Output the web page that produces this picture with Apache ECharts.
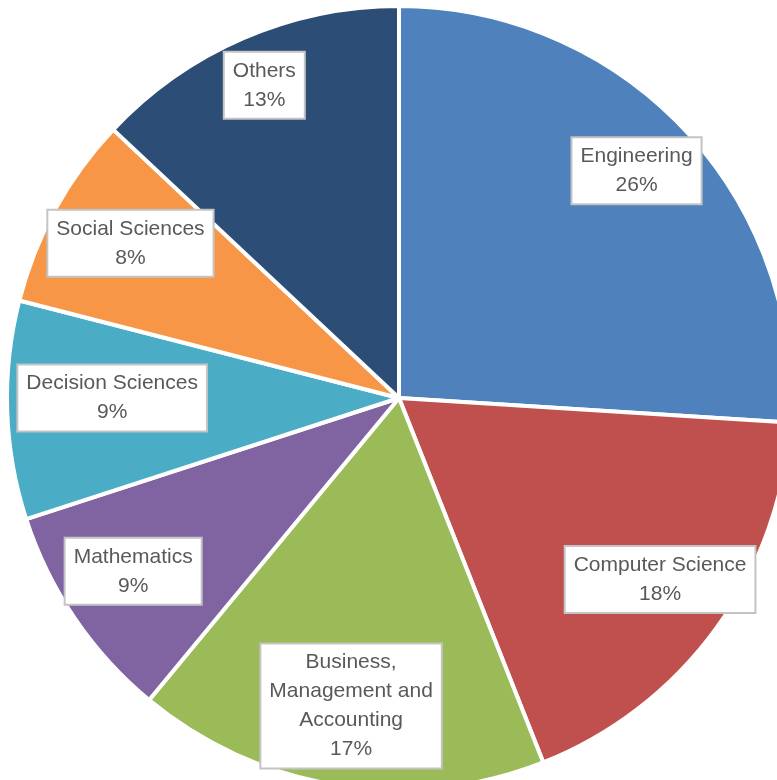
<!DOCTYPE html>
<html>
<head>
<meta charset="utf-8">
<title>Publications by subject area</title>
<script src="https://cdn.jsdelivr.net/npm/echarts@6/dist/echarts.min.js"></script>
<style>
  html, body { margin: 0; padding: 0; background: #ffffff; }
  #chart { width: 777px; height: 780px; }
</style>
</head>
<body>
<div id="chart"></div>
<script>
// Subject areas, clockwise from 12 o'clock
const categories = [
  'Engineering',
  'Computer Science',
  'Business, Management and Accounting',
  'Mathematics',
  'Decision Sciences',
  'Social Sciences',
  'Others'
];
// Share of documents per subject area (%)
const shares = [26, 18, 17, 9, 9, 8, 13];
const colors = ['#4F81BD', '#C0504D', '#9BBB59', '#8064A2', '#4BACC6', '#F79646', '#2C4D75'];

// Small hand-tuned shifts for the label boxes (px)
const labelNudge = {
  'Engineering': [5, -9],
  'Computer Science': [3, -6],
  'Business, Management and Accounting': [2, -7],
  'Mathematics': [-2, -6],
  'Decision Sciences': [32, -10],
  'Social Sciences': [11, -1],
  'Others': [-8, -20]
};

const pieData = categories.map((name, i) => ({
  name: name,
  value: shares[i],
  itemStyle: { color: colors[i] }
}));

const wrapName = (name) => name.replace(', ', ',\n').replace(' and ', ' and\n');

const chart = echarts.init(document.getElementById('chart'), null, { renderer: 'canvas' });

chart.setOption({
  animation: false,
  backgroundColor: '#ffffff',
  series: [
    {
      // the slices
      type: 'pie',
      center: [399, 398],
      radius: [0, 392],
      startAngle: 90,
      clockwise: true,
      silent: true,
      label: { show: false },
      labelLine: { show: false },
      itemStyle: { borderColor: '#ffffff', borderWidth: 4 },
      data: pieData
    },
    {
      // transparent ring that only carries the label boxes
      type: 'pie',
      center: [399, 398],
      radius: [242, 390],
      startAngle: 90,
      clockwise: true,
      silent: true,
      z: 5,
      itemStyle: { color: 'rgba(0,0,0,0)' },
      labelLine: { show: false },
      label: {
        show: true,
        position: 'inside',
        rotate: 0,
        formatter: (p) => wrapName(p.name) + '\n' + Math.round(p.value) + '%',
        fontFamily: 'Liberation Sans',
        fontSize: 21,
        lineHeight: 29,
        color: '#595959',
        align: 'center',
        backgroundColor: '#ffffff',
        borderColor: '#C4C4C4',
        borderWidth: 2,
        padding: [6, 8, 1, 8]
      },
      labelLayout: (params) => {
        const r = params.labelRect;
        const n = labelNudge[categories[params.dataIndex]] || [0, 0];
        return {
          x: r.x + r.width / 2 + n[0],
          y: r.y + r.height / 2 + n[1]
        };
      },
      data: categories.map((name, i) => ({ name: name, value: shares[i] }))
    }
  ]
});
</script>
</body>
</html>
